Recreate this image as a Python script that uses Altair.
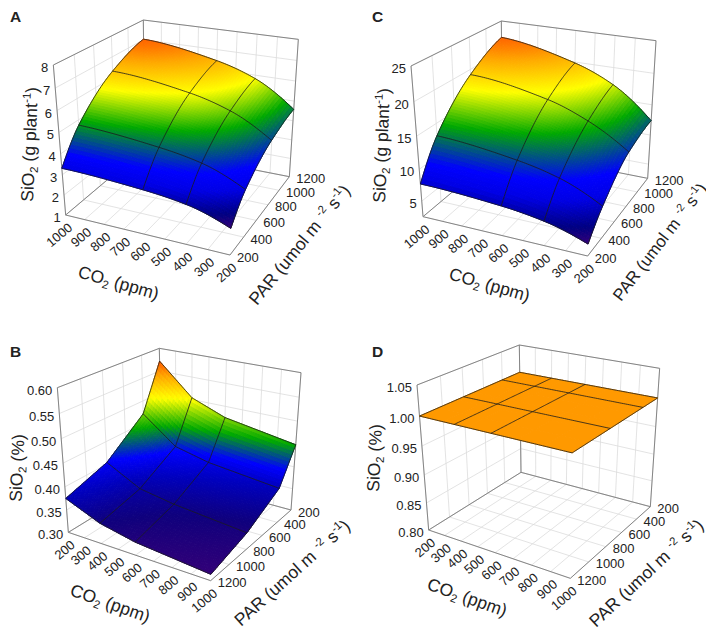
import altair as alt
import numpy as np

# ---------- values ----------
CO2_NODES = [200, 400, 600, 1000]
PAR_NODES = [200, 400, 800, 1200]
# rows follow PAR_NODES, columns follow CO2_NODES
SURF_A = [[2.24, 2.88, 3.12, 3.31],
          [3.26, 4.07, 4.42, 4.75],
          [4.23, 5.30, 5.84, 6.31],
          [4.58, 5.83, 6.45, 7.03]]
SURF_C = [[4.30, 6.22, 7.08, 7.72],
          [7.45, 10.31, 11.75, 13.12],
          [11.30, 14.97, 17.24, 19.20],
          [12.40, 17.26, 19.85, 22.35]]
SURF_B = [[0.572, 0.504, 0.475, 0.449],
          [0.471, 0.413, 0.395, 0.377],
          [0.404, 0.365, 0.352, 0.336],
          [0.375, 0.344, 0.328, 0.313]]
SURF_D = [[1.0, 1.0, 1.0, 1.0],
          [1.0, 1.0, 1.0, 1.0],
          [1.0, 1.0, 1.0, 1.0],
          [1.0, 1.0, 1.0, 1.0]]
CO2_TICKS = [200, 300, 400, 500, 600, 700, 800, 900, 1000]
PAR_TICKS = [200, 400, 600, 800, 1000, 1200]
Z_TICKS_A = [1, 2, 3, 4, 5, 6, 7, 8]
Z_TICKS_C = [5, 10, 15, 20, 25]
Z_TICKS_B = [0.30, 0.35, 0.40, 0.45, 0.50, 0.55, 0.60]
Z_TICKS_D = [0.80, 0.85, 0.90, 0.95, 1.00, 1.05]

STOPS = [0, .08, .22, .32, .55, .75, .9, 1]
RGB = [(50, 0, 120), (0, 0, 130), (0, 0, 230), (0, 0, 255), (0, 170, 0), (255, 255, 0), (255, 170, 0), (255, 100, 0)]
STOPS_B = [0, .12, .25, .36, .52, .72, .88, 1]
RGB_B = [(50, 0, 120), (15, 0, 125), (0, 0, 190), (0, 0, 255), (0, 170, 0), (255, 255, 0), (255, 170, 0), (255, 85, 0)]

# ---------- camera of each panel (box corners, 3x crop pixels) ----------
PANELS = [
    dict(name="A", surf=SURF_A, zt=Z_TICKS_A, zr=(1, 8), fmt="{:.0f}", o=(0, 0), smooth=True, stops=(STOPS, RGB),
         co2=(1000, 200), par=(200, 1200), psize=17.5,
         F=[(197, 645), (690, 765), (868, 530), (434, 445)], T=[(160, 195), (705, 281), (895, 118), (430, 60)],
         letter=(10, 22), ztitle=(33, 202, 272.5), ctitle=(77, 277, 16), ptitle=(257, 306, 309.3), unit=" (g plant", sup=True),
    dict(name="C", surf=SURF_C, zt=Z_TICKS_C, zr=(2.5, 25), fmt="{:.0f}", o=(357, 0), smooth=True, stops=(STOPS, RGB),
         co2=(1000, 200), par=(200, 1200), psize=16.8,
         F=[(198, 650), (692, 768), (872, 535), (437, 449)], T=[(162, 198), (707, 284), (897, 122), (433, 63)],
         letter=(372, 22), ztitle=(385, 203, 272.5), ctitle=(448, 279, 16), ptitle=(621, 302, 307.5), unit=" (g plant", sup=True),
    dict(name="B", surf=SURF_B, zt=Z_TICKS_B, zr=(0.30, 0.60), fmt="{:.2f}", o=(0, 315), smooth=False, stops=(STOPS_B, RGB_B),
         co2=(200, 1000), par=(1200, 200), psize=17.5,
         F=[(205, 652), (632, 797), (873, 585), (485, 480)], T=[(172, 218), (644, 322), (903, 173), (478, 100)],
         letter=(10, 357), ztitle=(21.5, 502, 272.5), ctitle=(69, 595, 19.5), ptitle=(241, 627, 318), unit=" (%)", sup=False),
    dict(name="D", surf=SURF_D, zt=Z_TICKS_D, zr=(0.80, 1.05), fmt="{:.2f}", o=(357, 315), smooth=False, stops=(STOPS, RGB),
         co2=(200, 1000), par=(1200, 200), psize=17.5,
         F=[(215, 645), (640, 790), (880, 575), (492, 472)], T=[(180, 210), (647, 311), (908, 160), (487, 90)],
         letter=(372, 357), ztitle=(379, 492, 272.5), ctitle=(426, 589, 19.5), ptitle=(596, 628, 317), unit=" (%)", sup=False),
]

FONT = "Liberation Sans"
PERSP = 1.09
N = 60
W, H = 698, 623

GW = dict(zip("SiOCPARumolgpantsd", [667, 222, 778, 722, 667, 667, 722, 556, 833, 556, 222, 556, 556, 556, 556, 278, 500, 556]))
GW.update({" ": 278, "(": 333, ")": 333, "%": 889, "-": 333, "1": 556, "2": 556})


def width(s, size):
    return sum(GW[c] for c in s) / 1000 * size


def homography(pts):
    A, b = [], []
    for (u, v), (x, y) in zip([(0, 0), (1, 0), (1, 1), (0, 1)], pts):
        A.append([u, v, 1, 0, 0, 0, -u * x, -v * x]); b.append(x)
        A.append([0, 0, 0, u, v, 1, -u * y, -v * y]); b.append(y)
    return np.append(np.linalg.solve(np.array(A, float), np.array(b, float)), 1).reshape(3, 3)


def pchip(x, y, t):
    x, y = np.asarray(x, float), np.asarray(y, float)
    h, d = np.diff(x), np.diff(y) / np.diff(x)
    m = np.zeros(len(x))
    for i in range(1, len(x) - 1):
        if d[i - 1] * d[i] > 0:
            a, b = 2 * h[i] + h[i - 1], h[i] + 2 * h[i - 1]
            m[i] = (a + b) / (a / d[i - 1] + b / d[i])
    m[0] = ((2 * h[0] + h[1]) * d[0] - h[0] * d[1]) / (h[0] + h[1])
    m[-1] = ((2 * h[-1] + h[-2]) * d[-1] - h[-1] * d[-2]) / (h[-1] + h[-2])
    if m[0] * d[0] < 0: m[0] = 0
    if m[-1] * d[-1] < 0: m[-1] = 0
    t = np.asarray(t, float)
    i = np.clip(np.searchsorted(x, t, side="right") - 1, 0, len(x) - 2)
    s = (t - x[i]) / h[i]
    return ((2*s**3 - 3*s**2 + 1) * y[i] + (s**3 - 2*s**2 + s) * h[i] * m[i]
            + (-2*s**3 + 3*s**2) * y[i + 1] + (s**3 - s**2) * h[i] * m[i + 1])


def linear(x, y, t):
    return np.interp(t, x, y)


def surface(grid, co2s, pars, smooth):
    g = np.array(grid, float)
    f = pchip if smooth else linear
    rows = np.array([f(CO2_NODES, r, co2s) for r in g])
    return np.array([f(PAR_NODES, rows[:, j], pars) for j in range(rows.shape[1])]).T


def hex_color(t, stops):
    pos, rgb = stops
    return "#%02x%02x%02x" % tuple(int(round(np.interp(t, pos, [c[k] for c in rgb]))) for k in range(3))


LINE_ID = [0]
xs = alt.X("x:Q", axis=None, scale=alt.Scale(domain=[0, W], nice=False, zero=False))
ys = alt.Y("y:Q", axis=None, scale=alt.Scale(domain=[H, 0], nice=False, zero=False))


def build(p):
    HF, HT = homography(p["F"]), homography(p["T"])
    ox, oy = p["o"][0] - 8, p["o"][1] - 8
    c0, c1 = p["co2"]; p0, p1 = p["par"]; z0, z1 = p["zr"]
    smooth = p["smooth"]

    def proj(co2, par, z):
        u, v = (co2 - c0) / (c1 - c0), (par - p0) / (p1 - p0)
        f = (z - z0) / (z1 - z0)
        s = f / (f + PERSP * (1 - f))
        q = np.array([u, v, 1.0])
        a, b = HF @ q, HT @ q
        a, b = a[:2] / a[2], b[:2] / b[2]
        r = a + (b - a) * s
        return float(r[0] / 3 + ox), float(r[1] / 3 + oy)

    grid, frame, mesh = [], [], []

    def seg(store, pts):
        LINE_ID[0] += 1
        for i, (x, y) in enumerate(pts):
            store.append(dict(x=x, y=y, id=LINE_ID[0], o=i))

    for z in p["zt"]:
        seg(grid, [proj(c0, p0, z), proj(c0, p1, z), proj(c1, p1, z)])
    for par in PAR_TICKS:
        seg(grid, [proj(c0, par, z0), proj(c0, par, z1)])
        seg(grid, [proj(c0, par, z0), proj(c1, par, z0)])
    for co2 in CO2_TICKS:
        seg(grid, [proj(co2, p1, z0), proj(co2, p1, z1)])
        seg(grid, [proj(co2, p0, z0), proj(co2, p1, z0)])
    seg(frame, [proj(c0, p0, z1), proj(c0, p1, z1), proj(c1, p1, z1), proj(c1, p1, z0), proj(c1, p0, z0), proj(c0, p0, z0), proj(c0, p0, z1)])
    seg(frame, [proj(c0, p0, z0), proj(c0, p1, z0), proj(c1, p1, z0)])
    seg(frame, [proj(c0, p1, z0), proj(c0, p1, z1)])

    n = N if p["name"] != "D" else 6
    co2s = np.linspace(200, 1000, n + 1)
    pars = np.linspace(200, 1200, n + 1)
    Z = surface(p["surf"], co2s, pars, smooth)
    zmin, zmax = Z.min(), Z.max()
    feats, quads = [], []
    for i in range(n):
        for j in range(n):
            zm = Z[i:i + 2, j:j + 2].mean()
            c = "#ff9900" if zmax - zmin < 1e-9 else hex_color((zm - zmin) / (zmax - zmin), p["stops"])
            corners = [(i, j), (i, j + 1), (i + 1, j + 1), (i + 1, j)]
            ring = [list(proj(co2s[b], pars[a], Z[a, b])) for a, b in corners]
            ring.append(ring[0])
            um = ((co2s[j] + co2s[j + 1]) / 2 - c0) / (c1 - c0)
            vm = ((pars[i] + pars[i + 1]) / 2 - p0) / (p1 - p0)
            quads.append((um - vm, ring, c))
    quads.sort(key=lambda q: q[0])
    for _, ring, c in quads:
        feats.append({"type": "Feature", "properties": {"c": c}, "geometry": {"type": "Polygon", "coordinates": [ring]}})

    fine_c = np.linspace(200, 1000, 81)
    fine_p = np.linspace(200, 1200, 81)
    for par in PAR_NODES:
        zz = surface(p["surf"], fine_c, np.array([par], float), smooth)[0]
        seg(mesh, [proj(a, par, b) for a, b in zip(fine_c, zz)])
    for co2 in CO2_NODES:
        zz = surface(p["surf"], np.array([co2], float), fine_p, smooth)[:, 0]
        seg(mesh, [proj(co2, a, b) for a, b in zip(fine_p, zz)])

    co2_lab, par_lab, z_lab = [], [], []
    for co2 in CO2_TICKS:
        x, y = proj(co2, p0, z0)
        co2_lab.append(dict(x=x + 5, y=y + 11, t=str(co2), a=320))
    for par in PAR_TICKS:
        x, y = proj(c1, par, z0)
        par_lab.append(dict(x=x + 7, y=y + 2.5, t=str(par), a=0))
    for z in p["zt"]:
        x, y = proj(c0, p0, z)
        z_lab.append(dict(x=x - 5, y=y + 3, t=p["fmt"].format(z), a=0))

    title_rows = []

    def rich(x, y, ang, parts, size=17.5):
        th = np.radians(ang)
        d, nn = np.array([np.cos(th), np.sin(th)]), np.array([-np.sin(th), np.cos(th)])
        pos = np.array([x - 8, y - 8], float)
        for s, kind in parts:
            fs = size * (0.65 if kind else 1)
            shift = {"": 0, "sub": 0.2 * size, "sup": -0.4 * size}[kind]
            lead = len(s) - len(s.lstrip())
            q = pos + nn * shift + d * width(" " * lead, fs)
            title_rows.append(dict(x=float(q[0]), y=float(q[1]), t=s.strip(), a=ang % 360, s=fs))
            pos = pos + d * width(s, fs)

    zx, zy, za = p["ztitle"]
    parts = [("SiO", ""), ("2", "sub"), (p["unit"], "")]
    if p["sup"]:
        parts += [("-1", "sup"), (")", "")]
    rich(zx, zy, za, parts)
    cx, cy, ca = p["ctitle"]
    rich(cx, cy, ca, [("CO", ""), ("2", "sub"), (" (ppm)", "")])
    px, py, pa = p["ptitle"]
    rich(px, py, pa, [("PAR (umol m ", ""), ("-2", "sup"), (" s", ""), ("-1", "sup"), (")", "")], p["psize"])

    def lines(rows, color, w):
        return alt.Chart(alt.Data(values=rows)).mark_line(color=color, strokeWidth=w).encode(
            x=xs, y=ys, detail="id:N", order="o:Q")

    def texts(rows, align, baseline, size=13, weight="normal"):
        return alt.Chart(alt.Data(values=rows)).mark_text(
            align=align, baseline=baseline, font=FONT, fontSize=size, fontWeight=weight, color="#222222"
        ).encode(x=xs, y=ys, text="t:N", angle=alt.Angle("a:Q", scale=None))

    shape = alt.Chart(alt.Data(values=feats)).mark_geoshape(strokeWidth=1).encode(
        color=alt.Color("properties.c:N", scale=None),
        stroke=alt.Stroke("properties.c:N", scale=None),
    ).project(type="identity", scale=1, translate=[0, 0])

    title_layer = alt.Chart(alt.Data(values=title_rows)).mark_text(
        align="left", baseline="alphabetic", font=FONT, color="#222222"
    ).encode(x=xs, y=ys, text="t:N", angle=alt.Angle("a:Q", scale=None), size=alt.Size("s:Q", scale=None))

    lx, ly = p["letter"]
    letter = texts([dict(x=lx - 8, y=ly - 8, t=p["name"], a=0)], "left", "alphabetic", 15.5, "bold")

    return [
        lines(grid, "#dcdcdc", 0.8), lines(frame, "#858585", 1.0),
        shape, lines(mesh, "#1c1c1c", 0.8),
        texts(co2_lab, "right", "middle"), texts(par_lab, "left", "middle"), texts(z_lab, "right", "middle"),
        title_layer, letter,
    ]


layers = []
for p in PANELS:
    layers += build(p)
chart = alt.layer(*layers).properties(
    width=W, height=H, padding=0, autosize=alt.AutoSizeParams(type="none")
).configure_view(stroke=None)

chart.save("out.html", embed_options={"renderer": "svg", "actions": False})
